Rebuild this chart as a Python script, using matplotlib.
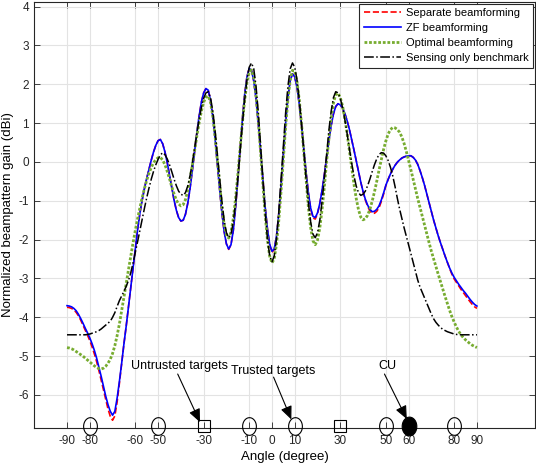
import numpy as np
import matplotlib
matplotlib.use("Agg")
import matplotlib.pyplot as plt

plt.rcParams['font.family'] = ['Liberation Sans', 'DejaVu Sans']
plt.rcParams['axes.unicode_minus'] = False

# angle (degree), one value per degree from -90 to 90
angle = np.arange(-90, 91)

# ZF beamforming (dBi)
zf_gain = [
    -3.70, -3.71, -3.73, -3.77, -3.83, -3.92, -4.03, -4.15, -4.28, -4.40,  # -90
    -4.53, -4.68, -4.85, -5.05, -5.28, -5.52, -5.78, -6.03, -6.25, -6.42,  # -80
    -6.52, -6.42, -6.08, -5.65, -5.18, -4.68, -4.22, -3.72, -3.22, -2.72,  # -70
    -2.20, -1.74, -1.32, -0.98, -0.68, -0.42, -0.18, 0.05, 0.26, 0.43,     # -60
    0.55, 0.58, 0.47, 0.26, -0.01, -0.33, -0.66, -0.98, -1.24, -1.43,      # -50
    -1.52, -1.50, -1.35, -1.07, -0.69, -0.23, 0.26, 0.75, 1.18, 1.54,      # -40
    1.78, 1.89, 1.85, 1.60, 1.17, 0.61, -0.04, -0.69, -1.30, -1.79,        # -30
    -2.11, -2.24, -2.13, -1.77, -1.19, -0.46, 0.33, 1.09, 1.74, 2.19,      # -20
    2.41, 2.36, 2.09, 1.62, 0.99, 0.28, -0.46, -1.15, -1.72, -2.12,        # -10
    -2.30, -2.24, -1.90, -1.33, -0.59, 0.22, 1.00, 1.65, 2.10, 2.27,       # 0
    2.19, 1.92, 1.48, 0.93, 0.32, -0.28, -0.80, -1.19, -1.40, -1.43,       # 10
    -1.31, -1.07, -0.73, -0.32, 0.12, 0.55, 0.94, 1.24, 1.43, 1.50,        # 20
    1.47, 1.39, 1.25, 1.06, 0.84, 0.58, 0.31, 0.03, -0.25, -0.52,          # 30
    -0.76, -0.96, -1.11, -1.22, -1.28, -1.27, -1.22, -1.13, -0.98, -0.80,  # 40
    -0.60, -0.45, -0.31, -0.19, -0.09, -0.01, 0.05, 0.10, 0.13, 0.15,      # 50
    0.16, 0.16, 0.12, 0.05, -0.06, -0.22, -0.40, -0.60, -0.82, -1.05,      # 60
    -1.28, -1.50, -1.70, -1.90, -2.08, -2.25, -2.42, -2.58, -2.73, -2.86,  # 70
    -2.97, -3.06, -3.15, -3.23, -3.31, -3.38, -3.46, -3.54, -3.61, -3.67,  # 80
    -3.71]                                                                 # 90

# Separate beamforming (dBi)
sep_gain = [
    -3.74, -3.75, -3.77, -3.81, -3.87, -3.96, -4.07, -4.20, -4.33, -4.46,  # -90
    -4.60, -4.76, -4.94, -5.14, -5.37, -5.62, -5.88, -6.13, -6.36, -6.55,  # -80
    -6.65, -6.54, -6.18, -5.70, -5.18, -4.68, -4.22, -3.72, -3.22, -2.72,  # -70
    -2.20, -1.74, -1.32, -0.98, -0.68, -0.42, -0.18, 0.05, 0.26, 0.43,     # -60
    0.55, 0.58, 0.47, 0.26, -0.01, -0.33, -0.66, -0.98, -1.24, -1.43,      # -50
    -1.52, -1.50, -1.35, -1.07, -0.69, -0.23, 0.26, 0.75, 1.18, 1.54,      # -40
    1.78, 1.89, 1.85, 1.60, 1.17, 0.61, -0.04, -0.69, -1.30, -1.79,        # -30
    -2.11, -2.25, -2.13, -1.77, -1.19, -0.46, 0.33, 1.09, 1.74, 2.19,      # -20
    2.41, 2.36, 2.09, 1.62, 0.99, 0.28, -0.46, -1.15, -1.72, -2.13,        # -10
    -2.33, -2.25, -1.90, -1.33, -0.59, 0.22, 1.00, 1.65, 2.10, 2.27,       # 0
    2.19, 1.92, 1.48, 0.93, 0.32, -0.28, -0.80, -1.21, -1.44, -1.47,       # 10
    -1.33, -1.07, -0.73, -0.32, 0.12, 0.55, 0.94, 1.24, 1.43, 1.50,        # 20
    1.47, 1.39, 1.25, 1.06, 0.84, 0.58, 0.31, 0.03, -0.25, -0.52,          # 30
    -0.77, -0.98, -1.14, -1.26, -1.32, -1.32, -1.27, -1.18, -1.02, -0.83,  # 40
    -0.61, -0.45, -0.31, -0.19, -0.09, -0.01, 0.05, 0.10, 0.13, 0.15,      # 50
    0.16, 0.16, 0.12, 0.05, -0.06, -0.22, -0.40, -0.60, -0.82, -1.05,      # 60
    -1.28, -1.50, -1.70, -1.90, -2.08, -2.25, -2.42, -2.58, -2.74, -2.89,  # 70
    -3.01, -3.10, -3.19, -3.28, -3.36, -3.44, -3.52, -3.60, -3.67, -3.73,  # 80
    -3.77]                                                                 # 90

# Optimal beamforming (dBi)
opt_gain = [
    -4.78, -4.79, -4.81, -4.84, -4.88, -4.92, -4.96, -5.00, -5.05, -5.10,  # -90
    -5.15, -5.20, -5.25, -5.29, -5.32, -5.33, -5.31, -5.26, -5.18, -5.08,  # -80
    -4.93, -4.73, -4.47, -4.17, -3.83, -3.48, -3.12, -2.77, -2.42, -2.08,  # -70
    -1.76, -1.46, -1.18, -0.92, -0.68, -0.47, -0.29, -0.14, -0.02, 0.06,   # -60
    0.11, 0.12, 0.05, -0.07, -0.24, -0.43, -0.64, -0.82, -0.98, -1.08,     # -50
    -1.13, -1.10, -0.97, -0.74, -0.44, -0.09, 0.29, 0.66, 1.01, 1.31,      # -40
    1.54, 1.67, 1.70, 1.54, 1.19, 0.67, 0.06, -0.57, -1.15, -1.61,         # -30
    -1.89, -1.96, -1.81, -1.46, -0.95, -0.33, 0.35, 1.01, 1.59, 2.04,      # -20
    2.31, 2.37, 2.18, 1.72, 1.06, 0.26, -0.57, -1.36, -2.00, -2.43,        # -10
    -2.60, -2.49, -2.11, -1.50, -0.74, 0.10, 0.91, 1.61, 2.11, 2.36,       # 0
    2.34, 2.07, 1.59, 0.96, 0.24, -0.50, -1.17, -1.70, -2.03, -2.13,       # 10
    -2.01, -1.70, -1.22, -0.64, 0.02, 0.60, 1.13, 1.52, 1.74, 1.77,        # 20
    1.66, 1.44, 1.12, 0.73, 0.30, -0.15, -0.57, -0.94, -1.23, -1.42,       # 30
    -1.49, -1.46, -1.37, -1.22, -1.01, -0.77, -0.50, -0.21, 0.06, 0.32,    # 40
    0.54, 0.72, 0.83, 0.89, 0.88, 0.84, 0.77, 0.65, 0.48, 0.27,            # 50
    0.04, -0.20, -0.45, -0.70, -0.94, -1.17, -1.40, -1.63, -1.86, -2.08,   # 60
    -2.30, -2.50, -2.70, -2.89, -3.08, -3.27, -3.46, -3.64, -3.82, -3.98,  # 70
    -4.12, -4.25, -4.36, -4.45, -4.52, -4.58, -4.63, -4.68, -4.72, -4.75,  # 80
    -4.78]                                                                 # 90

# Sensing only benchmark (dBi)
sens_gain = [
    -4.45, -4.45, -4.45, -4.45, -4.45, -4.45, -4.45, -4.45, -4.45, -4.44,  # -90
    -4.43, -4.41, -4.39, -4.37, -4.34, -4.30, -4.25, -4.20, -4.15, -4.10,  # -80
    -4.00, -3.88, -3.72, -3.57, -3.45, -3.33, -3.20, -3.05, -2.85, -2.60,  # -70
    -2.33, -2.05, -1.76, -1.47, -1.19, -0.92, -0.67, -0.44, -0.24, -0.07,  # -60
    0.07, 0.18, 0.24, 0.19, 0.08, -0.07, -0.25, -0.44, -0.61, -0.75,       # -50
    -0.83, -0.86, -0.79, -0.62, -0.36, -0.03, 0.34, 0.73, 1.09, 1.40,      # -40
    1.64, 1.78, 1.81, 1.66, 1.31, 0.82, 0.21, -0.42, -1.01, -1.50,         # -30
    -1.82, -1.95, -1.86, -1.55, -1.06, -0.44, 0.26, 0.97, 1.60, 2.11,      # -20
    2.44, 2.55, 2.40, 1.95, 1.27, 0.43, -0.45, -1.29, -1.97, -2.42,        # -10
    -2.57, -2.42, -1.97, -1.29, -0.45, 0.43, 1.27, 1.95, 2.40, 2.55,       # 0
    2.44, 2.11, 1.60, 0.97, 0.26, -0.44, -1.06, -1.55, -1.86, -1.95,       # 10
    -1.82, -1.50, -1.01, -0.42, 0.21, 0.82, 1.31, 1.66, 1.81, 1.78,        # 20
    1.64, 1.40, 1.09, 0.73, 0.34, -0.03, -0.36, -0.62, -0.79, -0.86,       # 30
    -0.83, -0.75, -0.61, -0.44, -0.25, -0.07, 0.08, 0.19, 0.24, 0.23,      # 40
    0.16, 0.04, -0.13, -0.35, -0.62, -0.92, -1.20, -1.45, -1.69, -1.91,    # 50
    -2.13, -2.36, -2.59, -2.82, -3.04, -3.22, -3.36, -3.50, -3.64, -3.78,  # 60
    -3.92, -4.04, -4.13, -4.20, -4.26, -4.31, -4.34, -4.37, -4.39, -4.41,  # 70
    -4.43, -4.44, -4.45, -4.45, -4.45, -4.45, -4.45, -4.45, -4.45, -4.45,  # 80
    -4.45]                                                                 # 90

untrusted_angles = [-30, 30]
trusted_angles = [-80, -50, -10, 10, 50, 80]
cu_angles = [60]
xticks = [-90, -80, -60, -50, -30, -10, 0, 10, 30, 50, 60, 80, 90]
yticks = np.arange(-6, 5)

fig = plt.figure(figsize=(5.36, 4.68), dpi=100)
ax = fig.add_axes([34/536, 40/468, 501/536, 426/468])

ax.plot(angle, sep_gain, '--', color='red', lw=1.2, label='Separate beamforming')
ax.plot(angle, zf_gain, '-', color='blue', lw=1.2, label='ZF beamforming')
ax.plot(angle, opt_gain, linestyle=(0, (1, 0.65)), color=(0.466, 0.674, 0.188), lw=2.0,
        label='Optimal beamforming')
ax.plot(angle, sens_gain, '-.', color='black', lw=1.1, label='Sensing only benchmark')

ybot = -6.85
ymark = -6.79
t = np.linspace(0, 2*np.pi, 80)
ellipse = np.c_[0.78*np.cos(t), np.sin(t)]
ax.plot(trusted_angles, [ymark]*len(trusted_angles), linestyle='none', marker=ellipse,
        ms=12.7, mfc='none', mec='black', mew=0.8, clip_on=False, zorder=5)
ax.plot(untrusted_angles, [ymark]*len(untrusted_angles), linestyle='none', marker='s',
        ms=8.3, mfc='none', mec='black', mew=0.8, clip_on=False, zorder=5)
ax.plot(cu_angles, [ymark]*len(cu_angles), linestyle='none', marker=ellipse,
        ms=13.5, mfc='black', mec='black', mew=0.8, clip_on=False, zorder=5)

arrow = dict(arrowstyle='-|>,head_length=0.8,head_width=0.35', color='black', lw=0.8,
             mutation_scale=10, shrinkA=0, shrinkB=0)
ax.annotate('', xy=(-31.6, -6.70), xytext=(-41.4, -5.46), arrowprops=arrow)
ax.annotate('', xy=(8.5, -6.63), xytext=(0.7, -5.54), arrowprops=arrow)
ax.annotate('', xy=(59.2, -6.62), xytext=(49.4, -5.46), arrowprops=arrow)
ax.text(-40.8, -5.25, 'Untrusted targets', ha='center', va='center', fontsize=9)
ax.text(0.7, -5.38, 'Trusted targets', ha='center', va='center', fontsize=9)
ax.text(50.5, -5.25, 'CU', ha='center', va='center', fontsize=9)

ax.set_xlim(-104.5, 115.5)
ax.set_ylim(ybot, 4.12)
ax.set_xticks(xticks)
ax.set_yticks(yticks)
ax.grid(True, color='#e3e3e3', lw=0.8)
ax.set_axisbelow(True)
ax.tick_params(direction='in', length=4, width=0.6, colors='#262626',
               labelsize=8.5, top=True, right=True)
ax.tick_params(axis='x', pad=5)
for s in ax.spines.values():
    s.set_color('#262626')
    s.set_linewidth(0.8)

ax.set_xlabel('Angle (degree)', fontsize=9.5, labelpad=3)
ax.set_ylabel('Normalized beampattern gain (dBi)', fontsize=9.5, labelpad=3)

leg = ax.legend(loc='upper right', fontsize=8, handlelength=3.3, borderaxespad=0.15,
                fancybox=False, framealpha=1, edgecolor='#262626',
                borderpad=0.4, labelspacing=0.45, handletextpad=0.5)
leg.get_frame().set_linewidth(0.8)

fig.savefig('out.png', dpi=100)
